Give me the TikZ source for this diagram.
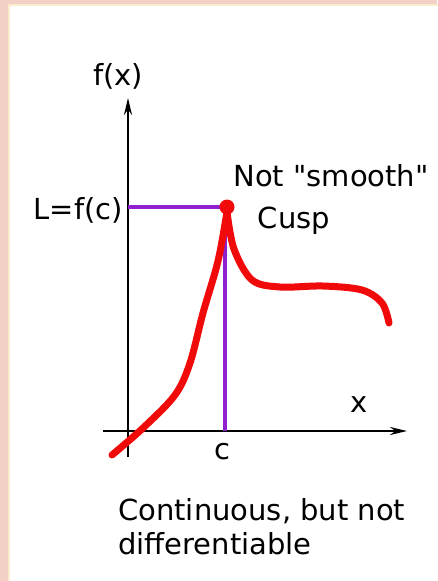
\documentclass[tikz,border=0pt]{standalone}
\usepackage{fontspec}
\setmainfont{DejaVu Sans}[Ligatures=ResetAll]
\usetikzlibrary{arrows.meta}
\newcommand\straightq{\XeTeXglyph\XeTeXglyphindex "quotedbl"\relax}
\definecolor{bgpink}{RGB}{242,208,198}
\definecolor{paneledge}{RGB}{250,236,205}
\definecolor{curvered}{RGB}{240,10,10}
\definecolor{guidepurple}{RGB}{142,32,205}
\tikzset{
  axis/.style={line width=2.6pt,-{Stealth[length=17pt,width=8pt]}},
  guide/.style={line width=3.4pt,guidepurple},
  curve/.style={line width=7pt,curvered,line cap=round},
  lbl/.style={font=\fontsize{29}{33}\selectfont,inner sep=0pt}
}
\begin{document}
\begin{tikzpicture}[x=1pt,y=-1pt]
\useasboundingbox (0,0) rectangle (437,581);
\fill[bgpink] (0,0) rectangle (437,581);
\fill[white,draw=paneledge,line width=1.5pt] (9,5) rectangle (440,585);
% axes
\coordinate (yb) at (128,457);
\coordinate (yt) at (128,98);
\coordinate (xl) at (103,431);
\coordinate (xr) at (407,431);
\draw[axis] (yb) -- (yt);
\draw[axis] (xl) -- (xr);
% guides
\coordinate (Lp) at (128,207);
\coordinate (P) at (227,207);
\coordinate (cp) at (225,431);
\draw[guide] (Lp) -- (P);
\draw[guide] (225,207) -- (cp);
% curve
\draw[curve] plot[smooth,tension=0.55] coordinates {(112,455) (143,428) (175,395) (190,363) (203,313) (218,261) (227,212)};
\draw[curve] plot[smooth,tension=0.55] coordinates {(227,212) (234,249) (252,280) (280,287) (323,286) (362,290) (382,303) (389,323)};
\fill[curvered] (P) circle (7.5);
% labels
\node[lbl] (fx) at (118,76) {f(x)};
\node[lbl,anchor=east] (L) at (123,210) {L=f(c)};
\node[lbl] (ns) at (331,176) {Not \straightq smooth\straightq};
\node[lbl] (cusp) at (294,221) {Cusp};
\node[lbl] (xlab) at (359,405) {x};
\node[lbl] (clab) at (222,452) {c};
\node[lbl,anchor=west] (cap1) at (118,511) {Continuous, but not};
\node[lbl,anchor=west] (cap2) at (118,544) {differentiable};
\end{tikzpicture}
\end{document}
